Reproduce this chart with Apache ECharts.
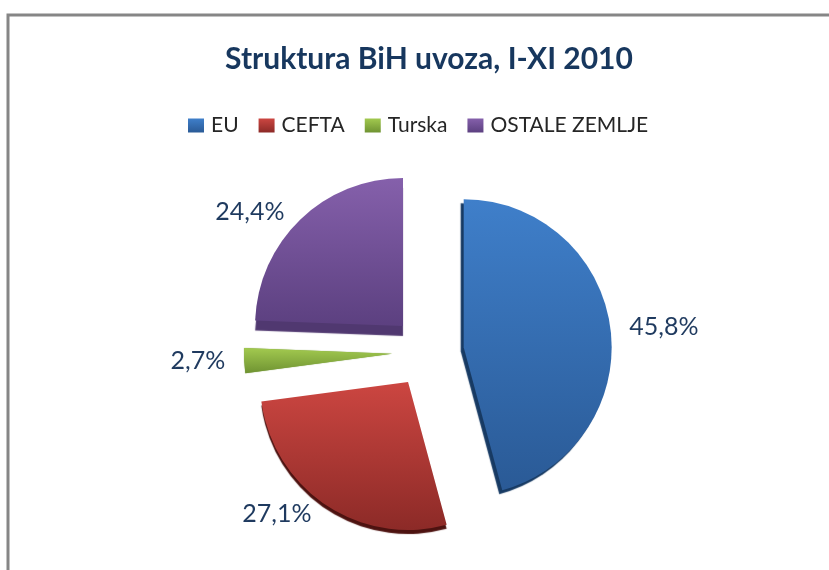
<!DOCTYPE html>
<html>
<head>
<meta charset="utf-8">
<script src="https://cdn.jsdelivr.net/npm/echarts@6/dist/echarts.min.js"></script>
<style>
html,body{margin:0;padding:0;background:#fff;}
#chart{width:829px;height:570px;}
</style>
</head>
<body>
<div id="chart"></div>
<script>
var categories = ['EU', 'CEFTA', 'Turska', 'OSTALE ZEMLJE'];
var values = [45.8, 27.1, 2.7, 24.4];
var labels = ['45,8%', '27,1%', '2,7%', '24,4%'];

// gornja i donja boja gradijenta, boja ruba
var topColors = ['#3f7fca', '#cc4641', '#a2c94f', '#8560ab'];
var bottomColors = ['#2a5a96', '#8c2a27', '#6f9332', '#5c4080'];
var edgeColors = ['#173a63', '#4d1210', '#6f9430', '#503870'];
var edgeX = [-3, 0, 0, 0];
var edgeY = [4, 4, 0, 10];
var labelDx = [0, 0, 0, 0];
var labelDy = [0, 0, 0, 0];

var myChart = echarts.init(document.getElementById('chart'));

var pieData = categories.map(function (name, i) {
    return {
        name: name,
        value: values[i],
        selected: true,
        itemStyle: {
            color: new echarts.graphic.LinearGradient(0, 0, 0, 1, [
                { offset: 0, color: topColors[i] },
                { offset: 1, color: bottomColors[i] }
            ]),
            shadowColor: edgeColors[i],
            shadowBlur: 1,
            shadowOffsetX: edgeX[i],
            shadowOffsetY: edgeY[i]
        }
    };
});

myChart.setOption({
    animation: false,
    title: {
        text: 'Struktura BiH uvoza, I-XI 2010',
        left: 424,
        top: 39,
        textAlign: 'center',
        textStyle: {
            fontFamily: 'Lato',
            fontSize: 30,
            fontWeight: 'bold',
            color: '#17375e'
        }
    },
    legend: {
        data: categories,
        left: 183,
        top: 110,
        itemWidth: 16,
        itemHeight: 14,
        itemGap: 20,
        icon: 'rect',
        selectedMode: false,
        textStyle: {
            fontFamily: 'Lato',
            fontSize: 21,
            color: '#262626',
            padding: [0, 0, 0, 2]
        }
    },
    graphic: [{
        type: 'polyline',
        silent: true,
        shape: { points: [[8, 570], [8, 15], [829, 15]] },
        style: { fill: null, stroke: '#868686', lineWidth: 3 }
    }],
    series: [{
        type: 'pie',
        center: [428, 352],
        radius: [0, 148],
        startAngle: 90,
        clockwise: true,
        selectedMode: 'multiple',
        selectedOffset: 36,
        avoidLabelOverlap: false,
        data: pieData,
        label: {
            show: true,
            position: 'outside',
            formatter: function (p) { return labels[p.dataIndex]; },
            fontFamily: 'Lato',
            fontSize: 25,
            color: '#1f3a5f'
        },
        labelLine: { show: false, length: 10, length2: 4 },
        labelLayout: function (p) {
            return { dx: labelDx[p.dataIndex], dy: labelDy[p.dataIndex] };
        }
    }]
});
</script>
</body>
</html>
